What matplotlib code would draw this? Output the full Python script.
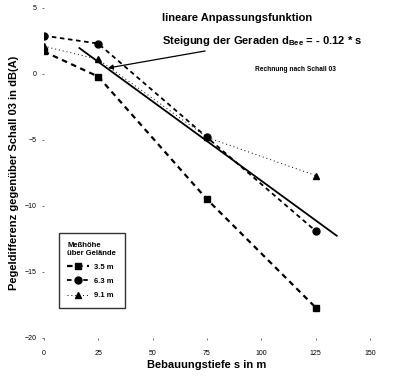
import matplotlib.pyplot as plt

plt.rcParams['font.family'] = ['Liberation Sans', 'DejaVu Sans']

# data
s = [0, 25, 75, 125]
h35 = [1.7, -0.2, -9.5, -17.7]   # Meßhöhe 3.5 m
h63 = [2.9, 2.3, -4.8, -11.9]    # Meßhöhe 6.3 m
h91 = [2.1, 1.1, -4.8, -7.7]     # Meßhöhe 9.1 m

fit_s = [16, 135]
fit_y = [2.0, -12.3]

xticks = [0, 25, 50, 75, 100, 125, 150]
yticks = [5, 0, -5, -10, -15, -20]

fig = plt.figure(figsize=(3.95, 3.78), dpi=100)
ax = fig.add_axes([0.111, 0.106, 0.826, 0.873])

ax.plot(s, h35, color='black', lw=1.6, ls=(0, (2.5, 2)), marker='s', ms=5, label='3.5 m')
ax.plot(s, h63, color='black', lw=1.3, ls=(0, (2.5, 2)), marker='o', ms=5, label='6.3 m')
ax.plot(s, h91, color='black', lw=0.7, ls=(0, (1, 3)), marker='^', ms=5, label='9.1 m')
ax.plot(fit_s, fit_y, color='black', lw=1.3, solid_capstyle='butt')

ax.set_xlim(0, 150)
ax.set_ylim(-20, 5)
ax.set_xticks(xticks)
ax.set_yticks(yticks)
for sp in ax.spines.values():
    sp.set_visible(False)
ax.tick_params(labelsize=5, length=1.5, width=0.6, pad=4, color='#555555')
ax.tick_params(axis='x', pad=7)

ax.set_xlabel('Bebauungstiefe s in m', fontsize=8, fontweight='bold', labelpad=2)
ax.set_ylabel('Pegeldifferenz gegenüber Schall 03 in dB(A)', fontsize=8, fontweight='bold', labelpad=4)

ax.text(0.363, 0.97, 'lineare Anpassungsfunktion', transform=ax.transAxes,
        fontsize=8, fontweight='bold', va='center')
ax.annotate('Steigung der Geraden d$_{\\mathregular{Bee}}$ = - 0.12 * s',
            xy=(29.5, 0.45), xytext=(0.363, 0.9), textcoords='axes fraction',
            fontsize=8, fontweight='bold', va='center',
            arrowprops=dict(arrowstyle='-|>', color='black', lw=0.9,
                            mutation_scale=7, shrinkA=1, shrinkB=0))
ax.text(0.647, 0.812, 'Rechnung nach Schall 03', transform=ax.transAxes,
        fontsize=4.8, fontweight='bold', va='center')

leg = ax.legend(title='Meßhöhe\nüber Gelände', loc='lower left',
                bbox_to_anchor=(0.035, 0.08), fontsize=5.5, title_fontsize=5.5,
                frameon=True, fancybox=False, handlelength=2.8, borderpad=1.1,
                labelspacing=0.9, alignment='left', handletextpad=0.7)
leg.get_frame().set_edgecolor('black')
leg.get_frame().set_linewidth(1.0)
leg.get_title().set_fontweight('bold')
for t in leg.get_texts():
    t.set_fontweight('bold')

fig.savefig('out.png', dpi=100)
